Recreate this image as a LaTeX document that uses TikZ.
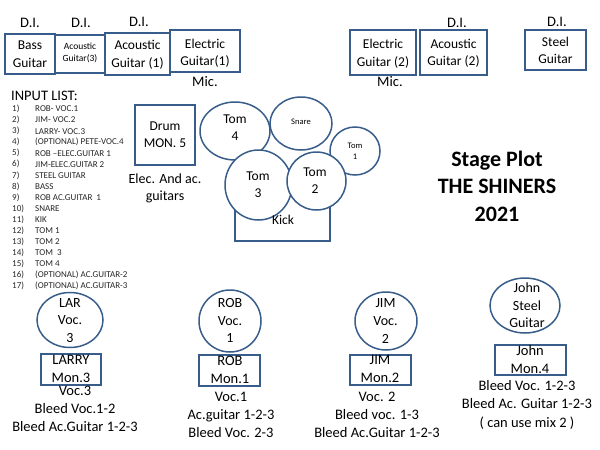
\documentclass[tikz,border=0pt]{standalone}
\usepackage{fontspec}
\setmainfont{Carlito}
\usetikzlibrary{shapes.geometric}
\definecolor{boxblue}{RGB}{56,93,138}
\begin{document}
\begin{tikzpicture}[x=1pt,y=-1pt,
  box/.style={draw=boxblue, line width=1.5pt, rectangle, inner sep=0pt},
  oval/.style={draw=boxblue, line width=1.5pt, fill=white, ellipse, inner sep=0pt},
  txt/.style={font=\fontsize{13.5}{17.5}\selectfont, align=center, inner sep=0pt},
  small/.style={font=\fontsize{9.5}{12}\selectfont, align=center, inner sep=0pt},
  lbl/.style={font=\fontsize{14.5}{18}\selectfont, align=center, inner sep=0pt},
  listtxt/.style={font=\fontsize{9}{11}\selectfont, anchor=west, inner sep=0pt, text=black!85},
  titletxt/.style={font=\bfseries\fontsize{22}{27.5}\selectfont, align=center, inner sep=0pt}]
\useasboundingbox (0,0) rectangle (600,450);

% top row boxes
\node[box, minimum width=50pt, minimum height=40pt] (bass) at (30,54) {};
\node[txt] (bass-t) at (30,54) {Bass\\Guitar};
\node[box, minimum width=50pt, minimum height=38pt] (ag3) at (80,54) {};
\node[small] (ag3-t) at (80,53) {Acoustic\\Guitar(3)};
\node[box, minimum width=65pt, minimum height=42pt] (ag1) at (137.5,54) {};
\node[txt] (ag1-t) at (137.5,55) {Acoustic\\Guitar (1)};
\node[box, minimum width=70pt, minimum height=42pt] (eg1) at (205,51) {};
\node[txt] (eg1-t) at (205,53) {Electric\\Guitar(1)};
\node[box, minimum width=66pt, minimum height=45pt] (eg2) at (383,52.5) {};
\node[txt] (eg2-t) at (383,53.5) {Electric\\Guitar (2)};
\node[box, minimum width=67pt, minimum height=45pt] (ag2) at (453.5,52.5) {};
\node[txt] (ag2-t) at (453.5,53.5) {Acoustic\\Guitar (2)};
\node[box, minimum width=61pt, minimum height=40pt] (steel) at (555.5,50) {};
\node[txt] (steel-t) at (555.5,50.5) {Steel\\Guitar};

\node[lbl] (di1) at (30,23) {D.I.};
\node[lbl] (di2) at (81,23) {D.I.};
\node[lbl] (di3) at (139,22) {D.I.};
\node[lbl] (di4) at (457,23) {D.I.};
\node[lbl] (di5) at (557,22) {D.I.};
\node[lbl] (mic1) at (205,82) {Mic.};
\node[lbl] (mic2) at (390,82) {Mic.};

% input list
\node[lbl, anchor=west] (inhead) at (11,96) {INPUT LIST:};
\foreach \nm/\tx [count=\i] in {1)/ROB- VOC.1, 2)/JIM- VOC.2, 3)/LARRY- VOC.3,
  4)/(OPTIONAL) PETE-VOC.4, 5)/ROB –ELEC.GUITAR 1, 6)/JIM-ELEC.GUITAR 2,
  7)/STEEL GUITAR, 8)/BASS, 9)/ROB AC.GUITAR\ \ 1, 10)/SNARE, 11)/KIK,
  12)/TOM 1, 13)/TOM 2, 14)/TOM\ \ 3, 15)/TOM 4,
  16)/(OPTIONAL) AC.GUITAR-2, 17)/(OPTIONAL) AC.GUITAR-3}{
  \node[listtxt] (num\i) at (12,{109+11.06*(\i-1)}) {\nm};
  \node[listtxt] (item\i) at (35,{109+11.06*(\i-1)}) {\tx};
}

% drum monitor
\node[box, minimum width=60pt, minimum height=60pt] (drummon) at (165,135) {};
\node[txt] (drummon-t) at (165,134.5) {Drum\\MON. 5};
\node[txt, font=\fontsize{14}{17}\selectfont] (elec) at (165,188.5) {Elec. And ac.\\guitars};

% drum kit
\node[box, minimum width=95pt, minimum height=50pt] (kick) at (282.5,216) {};
\node[oval, minimum width=70pt, minimum height=58pt] (tom4) at (235,131) {};
\node[oval, minimum width=62pt, minimum height=53pt] (snare) at (301,123.5) {};
\node[oval, minimum width=50pt, minimum height=48pt] (tom1) at (355,151) {};
\node[oval, minimum width=67pt, minimum height=70pt] (tom3) at (258.5,185) {};
\node[oval, minimum width=59pt, minimum height=58pt] (tom2) at (316.5,181) {};
\node[txt] (kick-t) at (283,220) {Kick};
\node[txt] (tom4-t) at (235,127.5) {Tom\\4};
\node[small, font=\fontsize{8.5}{11}\selectfont] (snare-t) at (301,122) {Snare};
\node[small, font=\fontsize{8.5}{11}\selectfont] (tom1-t) at (355,151) {Tom\\1};
\node[txt] (tom3-t) at (258,184.5) {Tom\\3};
\node[txt] (tom2-t) at (315,180.5) {Tom\\2};

% title
\node[titletxt] (title) at (497,186) {Stage Plot\\THE SHINERS\\2021};

% vocalists
\node[oval, minimum width=66pt, minimum height=55pt] (lar) at (70,320) {};
\node[lbl, font=\fontsize{14}{17.5}\selectfont] (lar-t) at (70,320.5) {LAR\\Voc.\\3};
\node[box, minimum width=60pt, minimum height=31pt] (larmon) at (71,369.5) {};
\node[lbl] (larmon-t) at (71,369) {LARRY\\Mon.3};
\node[lbl] (lar-n) at (75,409) {Voc.3\\Bleed Voc.1-2\\Bleed Ac.Guitar 1-2-3};

\node[oval, minimum width=62pt, minimum height=62pt] (rob) at (230,321) {};
\node[lbl, font=\fontsize{14}{17.5}\selectfont] (rob-t) at (230,320.5) {ROB\\Voc.\\1};
\node[box, minimum width=61pt, minimum height=31pt] (robmon) at (229.5,370.5) {};
\node[lbl] (robmon-t) at (230,370) {ROB\\Mon.1};
\node[lbl] (rob-n) at (231,415) {Voc.1\\Ac.guitar 1-2-3\\Bleed Voc. 2-3};

\node[oval, minimum width=62pt, minimum height=58pt] (jim) at (386,321) {};
\node[lbl, font=\fontsize{14}{18}\selectfont] (jim-t) at (385.5,321.5) {JIM\\Voc.\\2};
\node[box, minimum width=61pt, minimum height=30pt] (jimmon) at (380.5,370) {};
\node[lbl] (jimmon-t) at (380,368.5) {JIM\\Mon.2};
\node[lbl] (jim-n) at (377,414.5) {Voc. 2\\Bleed voc. 1-3\\Bleed Ac.Guitar 1-2-3};

\node[oval, minimum width=70pt, minimum height=55pt] (john) at (525,305.5) {};
\node[lbl, font=\fontsize{14}{17.5}\selectfont] (john-t) at (527,305.5) {John\\Steel\\Guitar};
\node[box, minimum width=71pt, minimum height=30pt] (johnmon) at (530.5,360) {};
\node[lbl] (johnmon-t) at (530,359.5) {John\\Mon.4};
\node[lbl, font=\fontsize{14.5}{18.5}\selectfont] (john-n) at (527,404.5) {Bleed Voc. 1-2-3\\Bleed Ac. Guitar 1-2-3\\( can use mix 2 )};
\end{tikzpicture}
\end{document}
